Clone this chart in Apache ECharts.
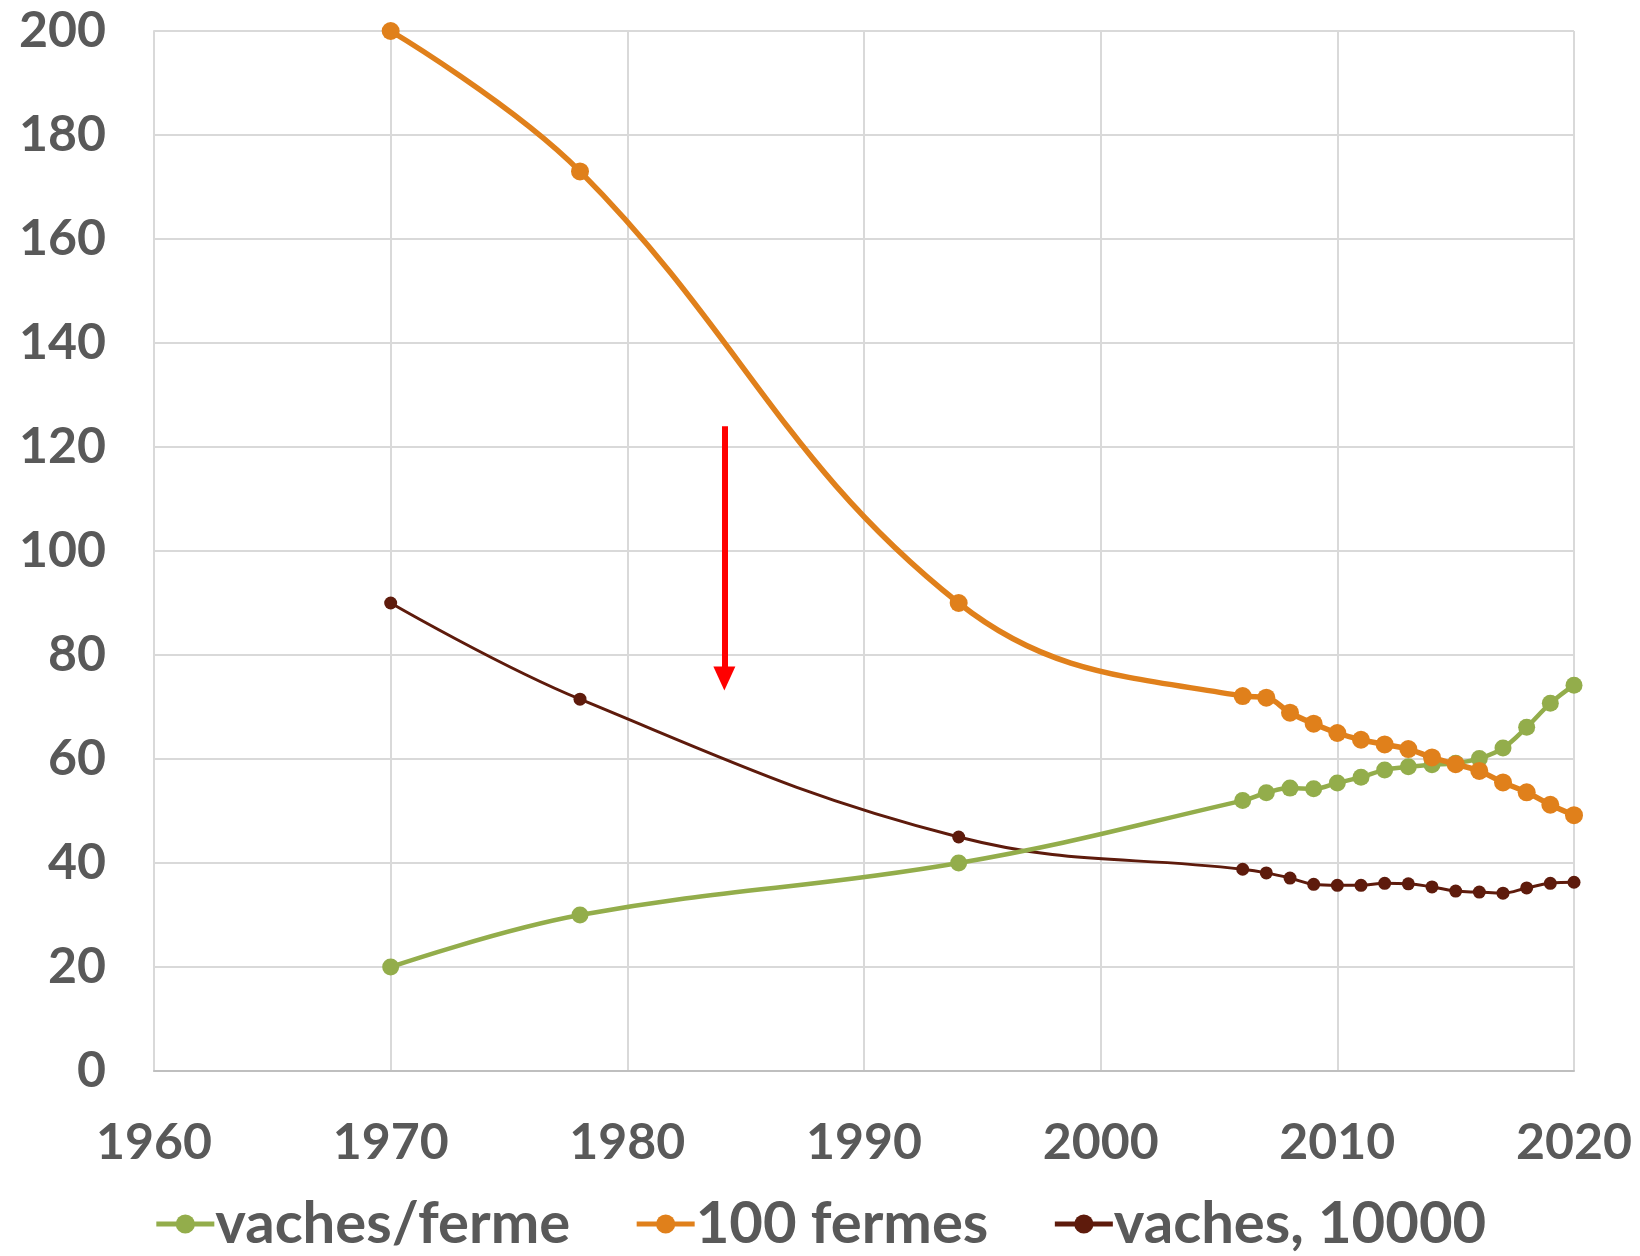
<!DOCTYPE html>
<html><head><meta charset="utf-8">
<script src="https://cdn.jsdelivr.net/npm/echarts@6/dist/echarts.min.js"></script>
<style>html,body{margin:0;padding:0;background:#fff}#c{width:1640px;height:1256px}</style>
</head><body><div id="c"></div>
<script>
const years = [1970, 1978, 1994, 2006, 2007, 2008, 2009, 2010, 2011, 2012, 2013, 2014, 2015, 2016, 2017, 2018, 2019, 2020];
const vachesParFerme = [20, 30, 40, 52.0, 53.5, 54.4, 54.3, 55.4, 56.5, 57.9, 58.5, 58.9, 59.2, 60.1, 62.1, 66.1, 70.7, 74.2];
const centFermes = [200, 173, 90, 72.1, 71.8, 68.9, 66.8, 65.0, 63.7, 62.8, 61.9, 60.3, 59.0, 57.7, 55.5, 53.6, 51.2, 49.2];
const vaches10000 = [90, 71.5, 45, 38.8, 38.1, 37.1, 35.9, 35.7, 35.7, 36.1, 36.0, 35.4, 34.6, 34.4, 34.2, 35.2, 36.1, 36.3];
const seriesNames = ['vaches/ferme', '100 fermes', 'vaches, 10000'];
const arrowX = 1984.1, arrowTop = 124, arrowBottom = 73.5;

const pairs = vals => years.map((y, i) => [y, vals[i]]);
const font = 'Lato, "Open Sans", sans-serif';
const chart = echarts.init(document.getElementById('c'));
chart.setOption({
  animation: false,
  backgroundColor: '#fff',
  grid: { left: 154, right: 66, top: 31, bottom: 185, containLabel: false },
  xAxis: {
    type: 'value', min: 1960, max: 2020, interval: 10,
    axisLine: { show: true, lineStyle: { color: '#bfbfbf', width: 2 } },
    axisTick: { show: false },
    splitLine: { show: true, lineStyle: { color: '#d9d9d9', width: 2 } },
    axisLabel: { color: '#595959', fontSize: 50, fontWeight: 'bold', fontFamily: font, margin: 47,
      formatter: v => String(v) }
  },
  yAxis: {
    type: 'value', min: 0, max: 200, interval: 20,
    axisLine: { show: true, lineStyle: { color: '#d9d9d9', width: 2 } },
    axisTick: { show: false },
    splitLine: { show: true, lineStyle: { color: '#d9d9d9', width: 2 } },
    axisLabel: { color: '#595959', fontSize: 50, fontWeight: 'bold', fontFamily: font, margin: 48 }
  },
  legend: {
    top: 1190, left: 'center', itemWidth: 58, itemHeight: 24, itemGap: 64,
    lineStyle: { width: 5 },
    textStyle: { color: '#595959', fontSize: 58, fontWeight: 'bold', fontFamily: font, padding: [0, 0, 0, -4] },
    data: seriesNames
  },
  series: [
    { name: seriesNames[0], type: 'line', smooth: 0.4, data: pairs(vachesParFerme),
      symbol: 'circle', symbolSize: 17, color: '#93AD4B', lineStyle: { width: 4.5 }, z: 3 },
    { name: seriesNames[1], type: 'line', smooth: 0.4, data: pairs(centFermes),
      symbol: 'circle', symbolSize: 18, color: '#E0801B', lineStyle: { width: 5.5 }, z: 4,
      markLine: { silent: true, symbol: ['none', 'triangle'], symbolSize: [22, 24],
        label: { show: false },
        lineStyle: { color: '#ff0000', width: 6, type: 'solid' },
        data: [[{ coord: [arrowX, arrowTop] }, { coord: [arrowX, arrowBottom + 2] }]] } },
    { name: seriesNames[2], type: 'line', smooth: 0.4, data: pairs(vaches10000),
      symbol: 'circle', symbolSize: 13, color: '#5E1B0C', lineStyle: { width: 3 }, z: 2 }
  ]
});
</script></body></html>
